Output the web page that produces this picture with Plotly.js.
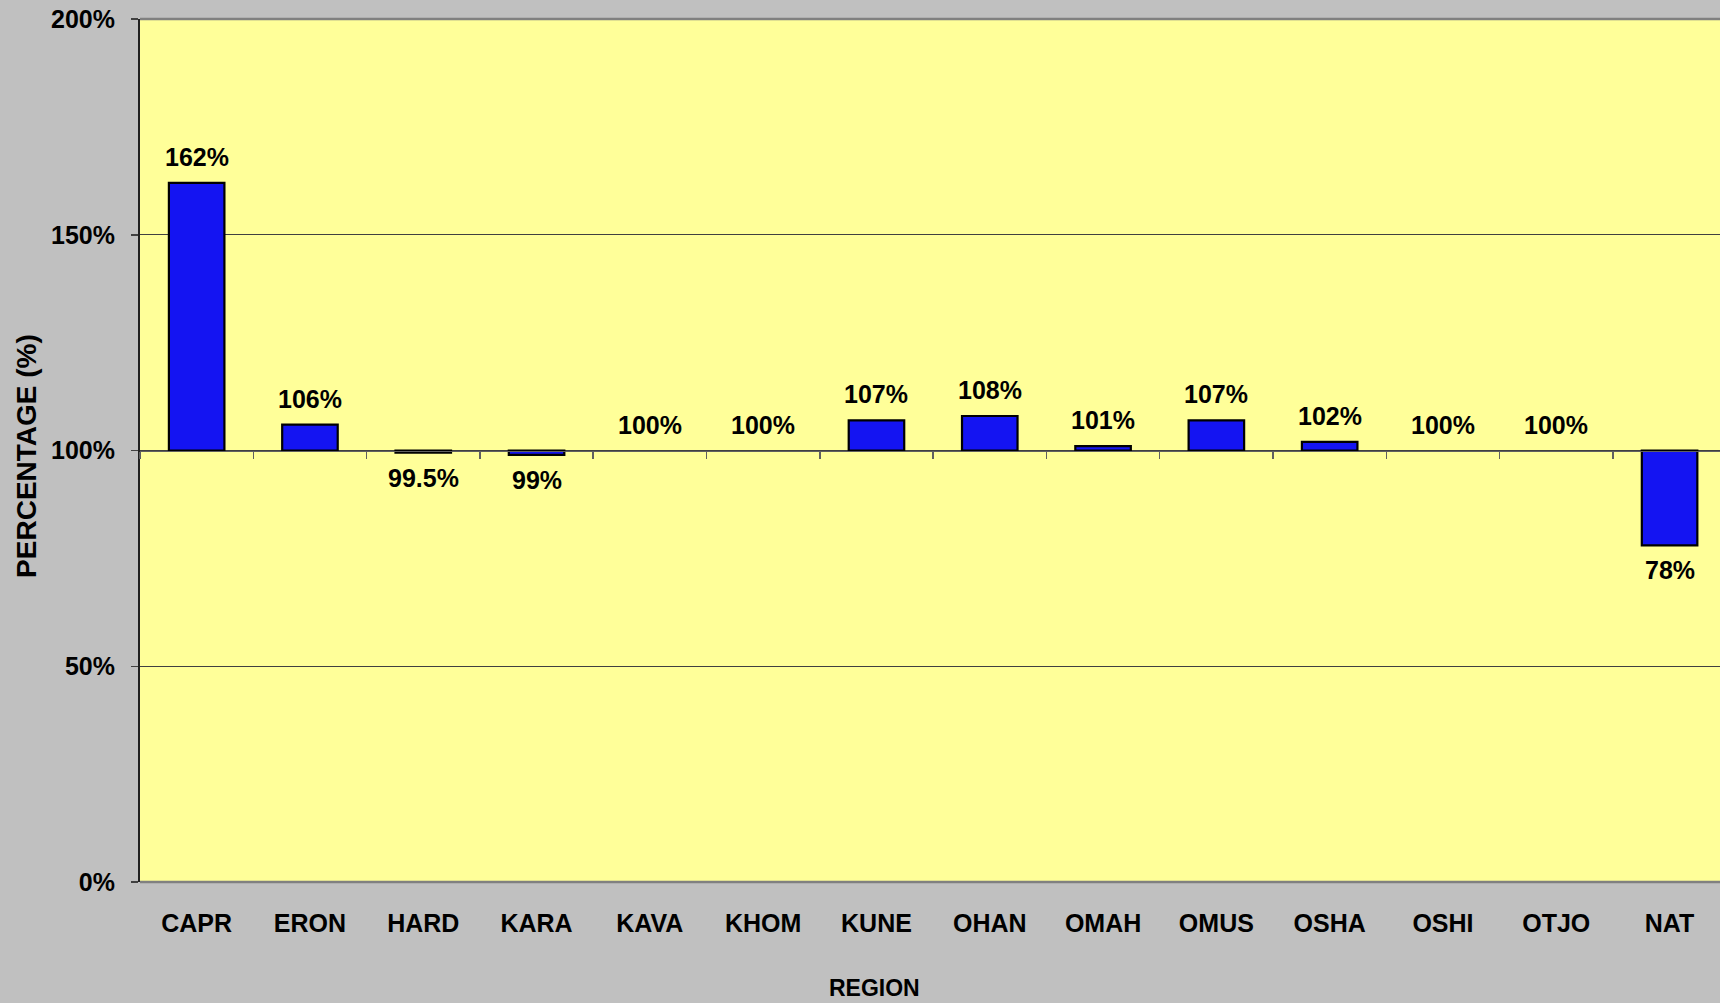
<!DOCTYPE html>
<html>
<head>
<meta charset="utf-8">
<script src="https://cdn.plot.ly/plotly-3.0.1.min.js"></script>
<style>
  html, body { margin: 0; padding: 0; background: #C0C0C0; }
  #chart { width: 1720px; height: 1003px; }
</style>
</head>
<body>
<div id="chart"></div>
<script>
// ---- data ----
const regions = ["CAPR", "ERON", "HARD", "KARA", "KAVA", "KHOM", "KUNE", "OHAN", "OMAH", "OMUS", "OSHA", "OSHI", "OTJO", "NAT"];
const values = [162, 106, 99.5, 99, 100, 100, 107, 108, 101, 107, 102, 100, 100, 78];
const labels = ["162%", "106%", "99.5%", "99%", "100%", "100%", "107%", "108%", "101%", "107%", "102%", "100%", "100%", "78%"];
const baseline = 100;
const yTickVals = [0, 50, 100, 150, 200];
const yTickText = ["0%", "50%", "100%", "150%", "200%"];
const xTitle = "REGION";
const yTitle = "PERCENTAGE (%)";

// ---- styling ----
const FONT = "Liberation Sans, Arial, Helvetica, sans-serif";
const fnt = (size) => ({ family: FONT, size: size, color: "#000000", weight: "bold" });

const bars = {
  type: "bar",
  x: regions,
  y: values.map(v => v - baseline),
  base: baseline,
  width: 0.49,
  marker: {
    color: "#1414f2",
    line: { color: "#000000", width: values.map(v => (v === baseline ? 0 : 2.2)) }
  },
  hoverinfo: "skip",
  showlegend: false
};

// invisible helper trace so the category-boundary axis at 100% is drawn
const helper = {
  type: "scatter",
  mode: "markers",
  x: regions,
  y: values,
  xaxis: "x2",
  yaxis: "y",
  marker: { opacity: 0 },
  hoverinfo: "skip",
  showlegend: false
};

const annotations = regions.map((r, i) => {
  const up = values[i] >= baseline;
  return {
    x: r, y: values[i], xref: "x", yref: "y",
    text: labels[i], showarrow: false,
    font: fnt(25),
    xanchor: "center", yanchor: "middle",
    yshift: up ? 26 : -25
  };
});
annotations.push({
  xref: "paper", yref: "paper", x: 0.465, y: -0.1232,
  text: xTitle, showarrow: false, font: fnt(23),
  xanchor: "center", yanchor: "middle"
});
annotations.push({
  xref: "paper", yref: "paper", x: -0.0715, y: 0.4938,
  text: yTitle, showarrow: false, font: fnt(28), textangle: -90,
  xanchor: "center", yanchor: "middle"
});

const layout = {
  width: 1720, height: 1003,
  paper_bgcolor: "#C0C0C0",
  plot_bgcolor: "#FFFF99",
  margin: { l: 140, r: 0, t: 19, b: 121, pad: 0 },
  showlegend: false,
  xaxis: {
    type: "category",
    range: [-0.5, 13.445],
    showline: false, showgrid: false, zeroline: false,
    ticks: "",
    tickfont: fnt(25),
    ticklabelstandoff: 24,
    fixedrange: true
  },
  xaxis2: {
    type: "category",
    overlaying: "x",
    matches: "x",
    anchor: "free",
    position: 0.5,
    side: "bottom",
    showline: true, linecolor: "#606060", linewidth: 1.5,
    ticks: "outside", tickson: "boundaries", ticklen: 7, tickwidth: 1.5, tickcolor: "#606060",
    showticklabels: false, showgrid: false, zeroline: false,
    fixedrange: true
  },
  yaxis: {
    range: [0, 200],
    tickvals: yTickVals,
    ticktext: yTickText,
    tickfont: fnt(25),
    ticks: "outside", ticklen: 7, tickwidth: 1.5, tickcolor: "#404040",
    ticklabelstandoff: 11,
    showline: true, linecolor: "#202020", linewidth: 2,
    showgrid: true, gridcolor: "#404040", gridwidth: 1,
    zeroline: false,
    fixedrange: true
  },
  shapes: [
    { type: "line", xref: "paper", yref: "paper", x0: 0, x1: 1, y0: 1, y1: 1,
      line: { color: "#808080", width: 2.5 }, layer: "above" },
    { type: "line", xref: "paper", yref: "paper", x0: 0, x1: 1, y0: 0, y1: 0,
      line: { color: "#808080", width: 2.5 }, layer: "above" }
  ],
  annotations: annotations
};

Plotly.newPlot("chart", [bars, helper], layout, { displayModeBar: false, staticPlot: true });
</script>
</body>
</html>
